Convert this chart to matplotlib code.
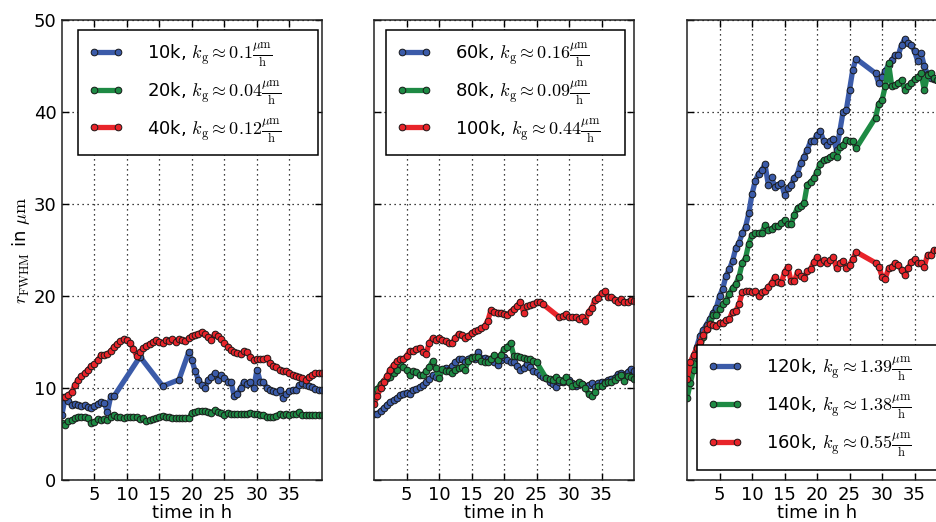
import matplotlib
matplotlib.use("Agg")
import matplotlib.pyplot as plt

plt.rcParams["font.family"] = ["DejaVu Sans"]
plt.rcParams["mathtext.fontset"] = "cm"
plt.rcParams["font.size"] = 13

# sampling times in h (every 30 min)
hours = [0.0, 0.5, 1.0, 1.5, 2.0, 2.5, 3.0, 3.5, 4.0, 4.5,
         5.0, 5.5, 6.0, 6.5, 7.0, 7.5, 8.0, 8.5, 9.0, 9.5,
         10.0, 10.5, 11.0, 11.5, 12.0, 12.5, 13.0, 13.5, 14.0, 14.5,
         15.0, 15.5, 16.0, 16.5, 17.0, 17.5, 18.0, 18.5, 19.0, 19.5,
         20.0, 20.5, 21.0, 21.5, 22.0, 22.5, 23.0, 23.5, 24.0, 24.5,
         25.0, 25.5, 26.0, 26.5, 27.0, 27.5, 28.0, 28.5, 29.0, 29.5,
         30.0, 30.5, 31.0, 31.5, 32.0, 32.5, 33.0, 33.5, 34.0, 34.5,
         35.0, 35.5, 36.0, 36.5, 37.0, 37.5, 38.0, 38.5, 39.0, 39.5,
         40.0]

# r_FWHM in um, None = no measurement
r_10k = [7.1, 9.0, 8.6, 8.2, 8.3, 8.1, 8.0, 8.1, 7.9, 7.8,
         8.0, 8.3, 8.5, 8.4, 7.4, 9.1, 9.1, None, None, None,
         None, None, None, None, 13.4, None, None, None, None, None,
         None, 10.2, None, None, None, None, 10.9, None, None, 13.9,
         13.0, 11.8, 10.9, 10.3, 10.0, 10.9, 11.2, 11.6, 10.9, 11.4,
         11.1, 10.7, 10.7, 9.1, 9.4, 10.0, 10.7, 10.4, 10.7, 10.0,
         12.0, 10.7, 10.7, 10.0, 9.8, 9.7, 9.6, 9.8, 8.9, 9.3,
         9.7, 9.8, 9.8, 10.3, 10.5, 10.3, 10.2, 10.1, 9.9, 9.8,
         9.8]
r_20k = [6.2, 6.0, 6.4, 6.5, 6.7, 6.9, 6.9, 6.8, 6.7, 6.2,
         6.3, 6.6, 6.5, 6.6, 6.5, 6.8, 7.1, 6.9, 6.8, 6.7,
         6.9, 6.8, 6.9, 6.8, 6.6, 6.7, 6.4, 6.5, 6.6, 6.7,
         6.9, 7.0, 6.9, 6.8, 6.7, 6.7, 6.7, 6.7, 6.7, 6.7,
         7.3, 7.4, 7.5, 7.5, 7.5, 7.4, 7.3, 7.6, 7.4, 7.3,
         7.1, 7.3, 7.2, 7.2, 7.2, 7.2, 7.2, 7.2, 7.3, 7.2,
         7.2, 7.1, 7.1, 6.9, 6.9, 6.8, 7.0, 7.2, 7.1, 7.2,
         7.1, 7.2, 7.2, 7.4, 7.1, 7.1, 7.1, 7.1, 7.1, 7.1,
         7.1]
r_40k = [9.0, 9.0, 9.2, 9.6, 10.3, 10.9, 11.3, 11.6, 12.0, 12.4,
         12.6, 13.0, 13.6, 13.6, 13.7, 14.0, 14.5, 14.8, 15.1, 15.3,
         15.2, 14.9, 14.2, 13.5, 13.9, 14.3, 14.6, 14.8, 15.0, 15.2,
         15.0, 14.9, 15.2, 15.1, 15.3, 15.0, 15.3, 15.2, 15.1, 15.4,
         15.7, 15.8, 15.9, 16.1, 15.9, 15.5, 15.2, 15.9, 15.6, 15.3,
         14.9, 14.5, 14.1, 13.9, 13.8, 13.7, 14.0, 13.9, 13.4, 13.0,
         13.1, 13.1, 13.1, 13.3, 12.7, 12.4, 12.3, 12.0, 11.8, 11.8,
         11.6, 11.4, 11.3, 11.2, 11.1, 10.9, 11.2, 11.4, 11.6, 11.6,
         11.6]

r_60k = [7.2, 7.2, 7.5, 7.8, 8.2, 8.5, 8.7, 8.9, 9.2, 9.4,
         9.5, 9.4, 9.8, 9.9, 10.1, 10.3, 10.6, 11.0, 11.4, 11.2,
         11.6, 12.0, 12.2, 12.0, 12.4, 12.8, 13.1, 13.1, 12.8, 13.2,
         13.4, 13.1, 13.9, 13.2, 13.3, 13.1, 13.1, 12.8, 12.5, 13.0,
         13.4, 13.0, 12.8, 12.8, 12.4, 12.0, 12.2, 12.6, 12.3, 11.9,
         11.7, 11.4, 11.2, 11.1, 10.7, 10.4, 10.1, 10.7, 10.6, 10.8,
         10.9, 10.5, 10.2, 10.4, 10.4, 10.2, 10.3, 10.5, 10.1, 10.5,
         10.7, 10.6, 10.9, 11.0, 11.1, 11.5, 11.6, 11.4, 11.7, 12.1,
         11.9]
r_80k = [9.3, 9.9, 10.4, 10.8, 11.1, 11.2, 11.6, 12.0, 12.6, 12.3,
         12.0, 11.4, 11.8, 11.7, 11.4, 11.4, 11.8, 12.3, 12.9, 12.2,
         11.1, 12.1, 11.9, 11.8, 11.6, 12.0, 12.2, 12.3, 12.0, 12.9,
         13.3, 13.4, 13.4, 12.9, 12.8, 12.8, 13.1, 13.6, 13.0, 13.6,
         14.2, 14.5, 14.9, 13.5, 13.5, 13.4, 13.3, 13.1, 13.2, 12.9,
         12.8, None, None, 11.05, 11.0, 10.9, 11.2, 10.9, 10.8, 11.2,
         10.6, 10.2, 10.4, 10.6, 10.4, 10.0, 9.4, 9.1, 9.6, 10.2,
         10.2, 10.5, 10.6, 10.7, 10.9, 11.2, 11.4, 10.8, 11.3, 11.2,
         11.0]
r_100k = [8.3, 9.1, 10.0, 10.7, 11.3, 12.0, 12.5, 12.9, 13.1, 13.1,
          13.5, 14.0, 14.0, 14.2, 14.4, 13.9, 13.7, 14.9, 15.4, 15.2,
          15.4, 15.2, 15.1, 14.9, 14.9, 15.4, 15.9, 15.8, 15.4, 15.6,
          16.0, 16.2, 16.3, 16.5, 16.7, 17.3, 18.5, 18.3, 18.2, 18.2,
          18.0, 17.9, 18.3, 18.6, 18.9, 19.4, 18.2, 18.9, 19.0, 19.1,
          19.3, 19.4, 19.1, None, None, None, None, 17.7, 17.8, 18.0,
          17.7, 17.7, 17.7, 17.5, 17.7, 17.3, 18.3, 18.7, 19.6, 19.8,
          20.3, 20.5, 19.9, 19.9, 19.6, 19.4, 19.7, 19.4, 19.3, 19.6,
          19.5]

r_120k = [10.8, 12.0, 13.3, 14.5, 15.7, 16.3, 16.9, 17.5, 18.2, 18.7,
          20.0, 20.8, 22.2, 22.9, 23.8, 25.2, 25.8, 26.8, 27.5, 29.0,
          31.1, 32.5, 33.3, 33.7, 34.3, 32.1, 32.9, 31.9, 32.1, 32.3,
          31.0, 31.7, 32.1, 32.8, 33.3, 34.5, 35.1, 35.9, 36.8, 36.9,
          37.5, 37.9, 36.9, 36.4, 36.8, 37.1, 35.9, 37.9, 40.0, 40.2,
          42.4, 44.6, 45.8, None, None, None, None, None, 44.2, 43.1,
          43.8, 44.5, 45.1, 45.6, 46.2, 46.2, 47.3, 47.9, 47.5, 47.3,
          46.6, 45.5, 46.4, 45.0, 44.1, 43.7, 43.6, 43.5, 43.6, 43.4,
          43.5]
r_140k = [8.9, 10.5, 12.0, 13.3, 14.5, 15.5, 16.4, 17.0, 17.9, 17.9,
          18.6, 19.1, 19.5, 20.2, 20.9, 21.3, 22.1, 23.6, 24.1, 25.7,
          26.6, 26.8, 26.8, 26.9, 27.7, 27.2, 27.3, 27.6, 27.6, 27.9,
          28.3, 27.8, 27.8, 28.8, 29.6, 29.8, 30.1, 32.1, 32.4, 32.8,
          33.5, 34.4, 34.8, 34.9, 35.1, 35.3, 35.1, 36.2, 36.4, 37.0,
          36.8, 36.9, 36.05, None, None, None, None, None, 39.4, 40.9,
          41.3, 42.8, 45.3, 42.8, 42.9, 43.1, 43.5, 42.4, 42.8, 43.1,
          43.6, 43.8, 44.2, 42.4, 44.0, 44.2, 43.7, 43.5, 43.8, 43.6,
          43.5]
r_160k = [11.0, 12.8, 13.6, 14.3, 15.0, 15.8, 16.4, 17.0, 16.9, 16.7,
          17.1, 17.1, 17.4, 17.5, 18.3, 18.4, 19.1, 20.4, 20.5, 20.5,
          20.4, 20.5, 20.0, 20.4, 20.5, 21.0, 21.4, 22.1, 21.5, 21.4,
          22.6, 23.2, 21.6, 21.6, 22.6, 22.2, 22.0, 22.7, 22.9, 23.7,
          24.2, 23.6, 23.9, 23.6, 23.9, 24.2, 23.0, 23.6, 23.8, 23.0,
          23.4, 24.0, 24.8, None, None, None, None, None, 23.6, 23.2,
          22.1, 21.9, 23.0, 23.2, 23.6, 23.4, 22.8, 22.3, 23.0, 23.7,
          24.0, 23.6, 23.6, 23.2, 24.5, 24.5, 25.0, 25.0, 24.8, 25.0,
          25.1]

panels = [
    (["10k", "20k", "40k"], ["0.1", "0.04", "0.12"], [r_10k, r_20k, r_40k]),
    (["60k", "80k", "100k"], ["0.16", "0.09", "0.44"], [r_60k, r_80k, r_100k]),
    (["120k", "140k", "160k"], ["1.39", "1.38", "0.55"], [r_120k, r_140k, r_160k]),
]
colors = ["#3b5ba9", "#1e8a44", "#e8242a"]
x_ticks = [5, 10, 15, 20, 25, 30, 35]
y_ticks = [0, 10, 20, 30, 40, 50]

fig = plt.figure(figsize=(9.36, 5.22), dpi=100)
lefts = [0.0662, 0.3996, 0.7340]
# legend boxes (x0, y0, width, height) in axes coords, stretched to width
legend_boxes = [("upper left", (0.062, 0.0, 0.923, 0.978)),
                ("upper left", (0.046, 0.0, 0.919, 0.978)),
                ("lower left", (0.038, 0.022, 1.0, 0.5))]

for i, (names, rates, series) in enumerate(panels):
    ax = fig.add_axes([lefts[i], 0.0805, 0.2778, 0.8812])
    for name, rate, vals, c in zip(names, rates, series, colors):
        t = [h for h, v in zip(hours, vals) if v is not None]
        y = [v for v in vals if v is not None]
        label = (name + r", $k_\mathrm{g}\approx" + rate
                 + r"\frac{\mu\mathrm{m}}{\mathrm{h}}$")
        ax.plot(t, y, "-o", color=c, lw=3.8, ms=4.8, mfc=c,
                mec="#1a1a1a", mew=0.7, label=label)

    ax.set_xlim(0, 40)
    ax.set_ylim(0, 50)
    ax.set_xticks(x_ticks)
    ax.set_yticks(y_ticks)
    ax.tick_params(direction="in", top=True, right=True, length=5,
                   width=1, labelsize=13, pad=4)
    ax.grid(True, color="black", linestyle=(0, (1, 3)), linewidth=0.9)
    for s in ax.spines.values():
        s.set_linewidth(1.1)
        s.set_color("#222222")
    ax.set_xlabel("time in h", fontsize=13, labelpad=0)
    if i == 0:
        ax.set_ylabel(r"$r_\mathrm{FWHM}$ in $\mu\mathrm{m}$", fontsize=13,
                      labelpad=1)
    else:
        ax.tick_params(labelleft=False)

    loc, box = legend_boxes[i]
    leg = ax.legend(loc=loc, bbox_to_anchor=box, mode="expand", numpoints=2,
                    fontsize=13, frameon=True, fancybox=False,
                    framealpha=1, edgecolor="black", borderpad=0.6,
                    labelspacing=0.55, handlelength=1.9, handletextpad=1.3,
                    borderaxespad=0.0)
    leg.get_frame().set_linewidth(1.1)

fig.savefig("out.png", dpi=100, facecolor="white")
